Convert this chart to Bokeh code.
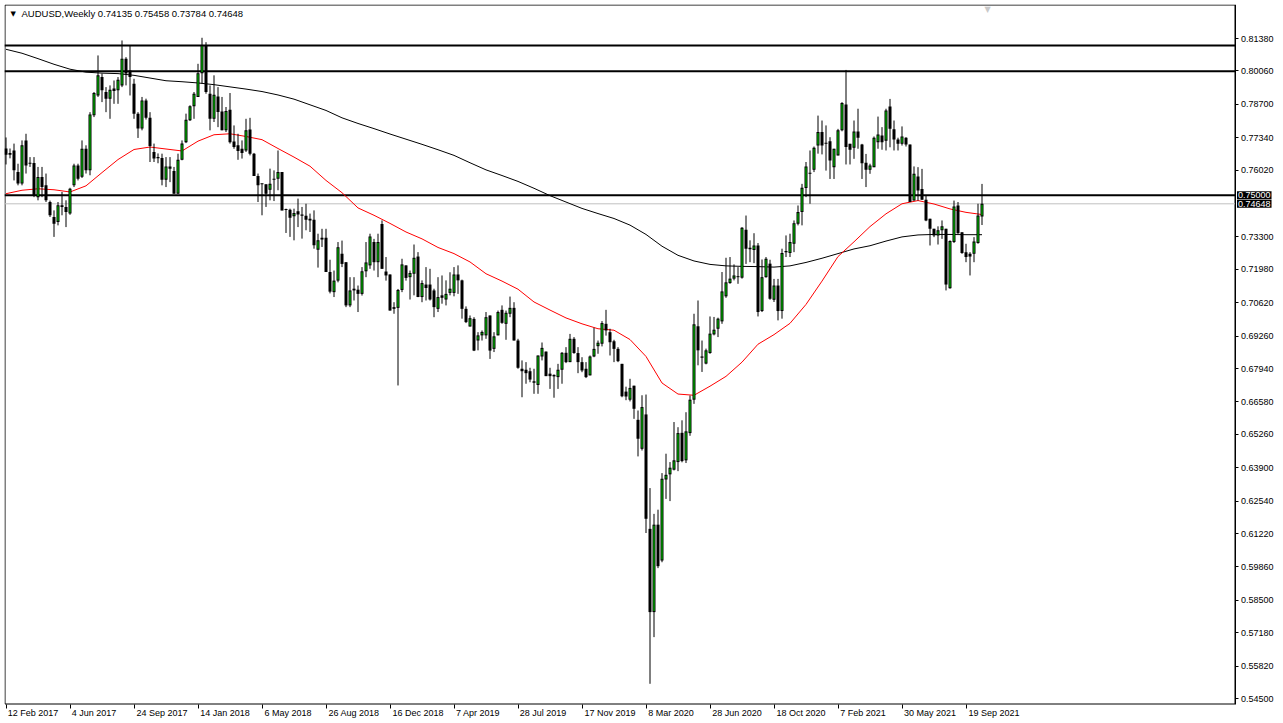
from bokeh.plotting import figure
from bokeh.models import (Range1d, Label, FixedTicker, NumeralTickFormatter, ColumnDataSource,
                          LinearAxis)
from bokeh.embed import file_html
from bokeh.resources import INLINE

# ---------------- data (weekly AUDUSD) ----------------
opens = [
    0.7690, 0.7665, 0.7682, 0.7594, 0.7547, 0.7723, 0.7628, 0.7631, 0.7492, 0.7574,
    0.7540, 0.7472, 0.7411, 0.7391, 0.7459, 0.7452, 0.7425, 0.7540, 0.7621, 0.7575,
    0.7689, 0.7601, 0.7825, 0.7906, 0.7981, 0.7920, 0.7893, 0.7924, 0.7927, 0.7947,
    0.8056, 0.8008, 0.7954, 0.7832, 0.7771, 0.7886, 0.7815, 0.7676, 0.7650, 0.7651,
    0.7563, 0.7617, 0.7598, 0.7506, 0.7644, 0.7716, 0.7805, 0.7862, 0.7900, 0.7997,
    0.8110, 0.7913, 0.7811, 0.7902, 0.7841, 0.7764, 0.7848, 0.7719, 0.7703, 0.7689,
    0.7682, 0.7767, 0.7669, 0.7578, 0.7544, 0.7544, 0.7522, 0.7563, 0.7567, 0.7594,
    0.7443, 0.7441, 0.7414, 0.7434, 0.7421, 0.7416, 0.7404, 0.7400, 0.7278, 0.7319,
    0.7327, 0.7187, 0.7105, 0.7152, 0.7261, 0.7227, 0.7051, 0.7112, 0.7115, 0.7098,
    0.7190, 0.7214, 0.7309, 0.7227, 0.7383, 0.7189, 0.7177, 0.7044, 0.7041, 0.7114,
    0.7214, 0.7166, 0.7180, 0.7250, 0.7085, 0.7136, 0.7136, 0.7112, 0.7037, 0.7092,
    0.7075, 0.7102, 0.7102, 0.7177, 0.7153, 0.7037, 0.6965, 0.6996, 0.6908, 0.6929,
    0.6929, 0.7010, 0.6874, 0.6929, 0.7033, 0.6976, 0.7017, 0.7041, 0.6908, 0.6793,
    0.6789, 0.6783, 0.6742, 0.6727, 0.6843, 0.6863, 0.6773, 0.6768, 0.6759, 0.6789,
    0.6858, 0.6820, 0.6915, 0.6857, 0.6820, 0.6793, 0.6766, 0.6843, 0.6885, 0.6895,
    0.6976, 0.6942, 0.6905, 0.6874, 0.6813, 0.6700, 0.6667, 0.6724, 0.6585, 0.6467,
    0.6607, 0.6141, 0.5802, 0.6158, 0.6012, 0.6342, 0.6363, 0.6382, 0.6413, 0.6532,
    0.6420, 0.6531, 0.6667, 0.6966, 0.6843, 0.6814, 0.6857, 0.6933, 0.6956, 0.6986,
    0.7088, 0.7142, 0.7160, 0.7166, 0.7164, 0.7359, 0.7286, 0.7277, 0.7295, 0.7028,
    0.7166, 0.7221, 0.7074, 0.7132, 0.7028, 0.7273, 0.7264, 0.7302, 0.7384, 0.7431,
    0.7529, 0.7591, 0.7603, 0.7702, 0.7757, 0.7712, 0.7720, 0.7614, 0.7662, 0.7764,
    0.7869, 0.7709, 0.7693, 0.7759, 0.7706, 0.7632, 0.7603, 0.7614, 0.7716, 0.7743,
    0.7722, 0.7861, 0.7768, 0.7727, 0.7709, 0.7734, 0.7706, 0.7478, 0.7576, 0.7525,
    0.7481, 0.7404, 0.7363, 0.7336, 0.7357, 0.7363, 0.7121, 0.7309, 0.7458, 0.7349,
    0.7268, 0.7261, 0.7261, 0.7305, 0.74135,
]
highs = [
    0.7735, 0.7690, 0.7710, 0.7628, 0.7723, 0.7750, 0.7655, 0.7655, 0.7615, 0.7615,
    0.7588, 0.7478, 0.7438, 0.7472, 0.7513, 0.7479, 0.7530, 0.7628, 0.7628, 0.7723,
    0.7703, 0.7838, 0.7920, 0.8069, 0.7995, 0.7940, 0.7947, 0.7967, 0.7981, 0.8130,
    0.8062, 0.8110, 0.7974, 0.7838, 0.7900, 0.7893, 0.7838, 0.7710, 0.7670, 0.7669,
    0.7655, 0.7655, 0.7615, 0.7669, 0.7723, 0.7832, 0.7866, 0.7920, 0.8035, 0.8141,
    0.8123, 0.7947, 0.7988, 0.7940, 0.7900, 0.7859, 0.7916, 0.7784, 0.7750, 0.7723,
    0.7811, 0.7815, 0.7672, 0.7588, 0.7547, 0.7544, 0.7608, 0.7601, 0.7682, 0.7594,
    0.7445, 0.7445, 0.7445, 0.7486, 0.7452, 0.7465, 0.7425, 0.7438, 0.7343, 0.7363,
    0.7363, 0.7237, 0.7193, 0.7309, 0.7315, 0.7227, 0.7166, 0.7166, 0.7132, 0.7207,
    0.7309, 0.7343, 0.7322, 0.7343, 0.7397, 0.7248, 0.7177, 0.7064, 0.7118, 0.7241,
    0.7214, 0.7193, 0.7299, 0.7268, 0.7153, 0.7207, 0.7200, 0.7119, 0.7166, 0.7173,
    0.7153, 0.7186, 0.7207, 0.7214, 0.7156, 0.7047, 0.7010, 0.7003, 0.6942, 0.6949,
    0.7024, 0.7010, 0.6942, 0.7030, 0.7051, 0.7030, 0.7087, 0.7064, 0.6915, 0.6827,
    0.6820, 0.6797, 0.6793, 0.6847, 0.6900, 0.6863, 0.6797, 0.6770, 0.6813, 0.6861,
    0.6881, 0.6935, 0.6922, 0.6881, 0.6840, 0.6820, 0.6847, 0.6960, 0.6908, 0.6987,
    0.7033, 0.6956, 0.6911, 0.6881, 0.6813, 0.6720, 0.6752, 0.6724, 0.6623, 0.6685,
    0.6688, 0.6307, 0.6202, 0.6219, 0.6368, 0.6447, 0.6413, 0.6576, 0.6555, 0.6583,
    0.6616, 0.6684, 0.7017, 0.7071, 0.6908, 0.6875, 0.7006, 0.7004, 0.7001, 0.7187,
    0.7245, 0.7248, 0.7218, 0.7207, 0.7370, 0.7417, 0.7316, 0.7345, 0.7305, 0.7238,
    0.7248, 0.7237, 0.7159, 0.7159, 0.7282, 0.7336, 0.7343, 0.7397, 0.7458, 0.7546,
    0.7635, 0.7682, 0.7698, 0.7824, 0.7804, 0.7784, 0.7736, 0.7689, 0.7770, 0.7879,
    0.8010, 0.7709, 0.7804, 0.7852, 0.7709, 0.7668, 0.7628, 0.7739, 0.7820, 0.7777,
    0.7852, 0.7892, 0.7804, 0.7734, 0.7780, 0.7736, 0.7706, 0.7617, 0.7614, 0.7607,
    0.7499, 0.7404, 0.7363, 0.7373, 0.7397, 0.7363, 0.7316, 0.7478, 0.7472, 0.7349,
    0.7302, 0.7268, 0.7329, 0.7465, 0.75458,
]
lows = [
    0.7625, 0.7650, 0.7560, 0.7540, 0.7540, 0.7588, 0.7615, 0.7492, 0.7479, 0.7492,
    0.7472, 0.7411, 0.7330, 0.7377, 0.7418, 0.7370, 0.7420, 0.7533, 0.7560, 0.7570,
    0.7588, 0.7581, 0.7818, 0.7900, 0.7879, 0.7838, 0.7811, 0.7872, 0.7872, 0.7940,
    0.7947, 0.7906, 0.7811, 0.7733, 0.7764, 0.7808, 0.7635, 0.7635, 0.7630, 0.7540,
    0.7533, 0.7553, 0.7506, 0.7506, 0.7642, 0.7712, 0.7802, 0.7811, 0.7900, 0.7954,
    0.7913, 0.7764, 0.7798, 0.7777, 0.7764, 0.7757, 0.7710, 0.7689, 0.7644, 0.7649,
    0.7676, 0.7662, 0.7578, 0.7472, 0.7418, 0.7452, 0.7479, 0.7476, 0.7520, 0.7438,
    0.7346, 0.7330, 0.7316, 0.7370, 0.7323, 0.7357, 0.7350, 0.7282, 0.7205, 0.7289,
    0.7187, 0.7100, 0.7085, 0.7145, 0.7207, 0.7044, 0.7044, 0.7071, 0.7024, 0.7091,
    0.7166, 0.7200, 0.7193, 0.7166, 0.7200, 0.7152, 0.7030, 0.7017, 0.6725, 0.7105,
    0.7152, 0.7075, 0.7092, 0.7085, 0.7064, 0.7071, 0.7071, 0.7003, 0.7024, 0.7058,
    0.7051, 0.7092, 0.7088, 0.7098, 0.6997, 0.6979, 0.6965, 0.6865, 0.6868, 0.6908,
    0.6915, 0.6833, 0.6861, 0.6929, 0.6976, 0.6911, 0.7003, 0.6908, 0.6793, 0.6677,
    0.6732, 0.6738, 0.6691, 0.6691, 0.6827, 0.6763, 0.6711, 0.6675, 0.6711, 0.6732,
    0.6816, 0.6820, 0.6854, 0.6775, 0.6779, 0.6755, 0.6766, 0.6840, 0.6854, 0.6884,
    0.6928, 0.6847, 0.6820, 0.6820, 0.6677, 0.6665, 0.6660, 0.6589, 0.6436, 0.6460,
    0.6124, 0.5510, 0.5700, 0.5981, 0.6005, 0.6263, 0.6254, 0.6379, 0.6376, 0.6412,
    0.6409, 0.6520, 0.6650, 0.6807, 0.6780, 0.6811, 0.6854, 0.6929, 0.6922, 0.6976,
    0.7082, 0.7139, 0.7153, 0.7139, 0.7160, 0.7220, 0.7227, 0.7223, 0.7006, 0.7024,
    0.7164, 0.7074, 0.7065, 0.6990, 0.6997, 0.7248, 0.7248, 0.7268, 0.7377, 0.7377,
    0.7492, 0.7465, 0.7594, 0.7669, 0.7666, 0.7600, 0.7566, 0.7566, 0.7662, 0.7760,
    0.7625, 0.7625, 0.7648, 0.7689, 0.7566, 0.7533, 0.7587, 0.7614, 0.7689, 0.7685,
    0.7682, 0.7695, 0.7682, 0.7682, 0.7702, 0.7698, 0.7472, 0.7478, 0.7478, 0.7481,
    0.7394, 0.7295, 0.7329, 0.7299, 0.7322, 0.7112, 0.7119, 0.7305, 0.7343, 0.7261,
    0.7227, 0.7173, 0.7227, 0.7302, 0.73784,
]
closes = [
    0.7665, 0.7672, 0.7601, 0.7547, 0.7703, 0.7621, 0.7631, 0.7499, 0.7574, 0.7533,
    0.7479, 0.7418, 0.7384, 0.7459, 0.7452, 0.7431, 0.7526, 0.7621, 0.7567, 0.7689,
    0.7601, 0.7829, 0.7916, 0.7988, 0.7927, 0.7893, 0.7929, 0.7934, 0.7970, 0.8056,
    0.7995, 0.7981, 0.7832, 0.7771, 0.7886, 0.7815, 0.7700, 0.7649, 0.7655, 0.7563,
    0.7617, 0.7608, 0.7506, 0.7644, 0.7710, 0.7807, 0.7862, 0.7913, 0.7997, 0.8110,
    0.7920, 0.7811, 0.7909, 0.7839, 0.7764, 0.7843, 0.7716, 0.7696, 0.7680, 0.7672,
    0.7764, 0.7669, 0.7578, 0.7540, 0.7544, 0.7506, 0.7546, 0.7567, 0.7594, 0.7438,
    0.7440, 0.7408, 0.7427, 0.7421, 0.7416, 0.7400, 0.7397, 0.7296, 0.7316, 0.7327,
    0.7187, 0.7107, 0.7152, 0.7288, 0.7220, 0.7051, 0.7112, 0.7119, 0.7098, 0.7190,
    0.7226, 0.7332, 0.7227, 0.7309, 0.7200, 0.7173, 0.7030, 0.7037, 0.7114, 0.7218,
    0.7163, 0.7183, 0.7245, 0.7085, 0.7142, 0.7122, 0.7075, 0.7044, 0.7085, 0.7082,
    0.7098, 0.7119, 0.7177, 0.7153, 0.7037, 0.6983, 0.6999, 0.6867, 0.6929, 0.6943,
    0.7003, 0.6867, 0.6925, 0.7024, 0.6980, 0.7021, 0.7041, 0.6908, 0.6797, 0.6783,
    0.6775, 0.6749, 0.6736, 0.6847, 0.6878, 0.6763, 0.6763, 0.6762, 0.6789, 0.6858,
    0.6820, 0.6915, 0.6857, 0.6820, 0.6786, 0.6759, 0.6843, 0.6874, 0.6899, 0.6979,
    0.6949, 0.6901, 0.6874, 0.6824, 0.6681, 0.6680, 0.6715, 0.6630, 0.6508, 0.6637,
    0.6182, 0.5802, 0.6158, 0.5989, 0.6345, 0.6361, 0.6390, 0.6420, 0.6531, 0.6417,
    0.6538, 0.6667, 0.6974, 0.6868, 0.6838, 0.6868, 0.6936, 0.6952, 0.6997, 0.7108,
    0.7145, 0.7160, 0.7173, 0.7167, 0.7367, 0.7282, 0.7280, 0.7295, 0.7024, 0.7166,
    0.7241, 0.7078, 0.7132, 0.7028, 0.7264, 0.7268, 0.7309, 0.7386, 0.7431, 0.7530,
    0.7617, 0.7587, 0.7693, 0.7757, 0.7702, 0.7709, 0.7641, 0.7689, 0.7764, 0.7875,
    0.7696, 0.7685, 0.7759, 0.7734, 0.7630, 0.7603, 0.7621, 0.7734, 0.7747, 0.7716,
    0.7845, 0.7770, 0.7727, 0.7709, 0.7739, 0.7706, 0.7472, 0.7587, 0.7519, 0.7481,
    0.7397, 0.7363, 0.7336, 0.7357, 0.7373, 0.7136, 0.7313, 0.7454, 0.7345, 0.7264,
    0.7248, 0.7250, 0.7311, 0.7417, 0.74648,
]

# moving averages, read every 4 weeks
ma_weeks = list(range(0, 245, 4))
ma_red = [
    0.7506, 0.7520, 0.7526, 0.7522, 0.7513, 0.7538, 0.7592, 0.7645, 0.7686, 0.7696,
    0.7688, 0.7680, 0.7720, 0.7746, 0.7750, 0.7739, 0.7726, 0.7690, 0.7655, 0.7618,
    0.7560, 0.7510, 0.7448, 0.7418, 0.7385, 0.7350, 0.7322, 0.7287, 0.7262, 0.7228,
    0.7180, 0.7150, 0.7117, 0.7065, 0.7032, 0.7000, 0.6976, 0.6956, 0.6950, 0.6912,
    0.6843, 0.6735, 0.6690, 0.6685, 0.6722, 0.6762, 0.6820, 0.6893, 0.6932, 0.6978,
    0.7055, 0.7150, 0.7250, 0.7310, 0.7372, 0.7424, 0.7465, 0.7478, 0.7464, 0.7444,
    0.7430, 0.7421,
]
ma_black = [
    0.8094, 0.8078, 0.8056, 0.8033, 0.8013, 0.8001, 0.7997, 0.7995, 0.7988, 0.7977,
    0.7966, 0.7962, 0.7957, 0.7950, 0.7941, 0.7932, 0.7922, 0.7908, 0.7891, 0.7868,
    0.7845, 0.7815, 0.7792, 0.7771, 0.7749, 0.7728, 0.7707, 0.7685, 0.7662, 0.7632,
    0.7603, 0.7580, 0.7556, 0.7528, 0.7498, 0.7472, 0.7446, 0.7425, 0.7405, 0.7378,
    0.7340, 0.7292, 0.7255, 0.7232, 0.7218, 0.7212, 0.7210, 0.7209, 0.7207, 0.7212,
    0.7226, 0.7243, 0.7262, 0.7281, 0.7294, 0.7313, 0.7330, 0.7338, 0.7340, 0.7340,
    0.7339, 0.7339,
]

level_lines = [0.8110, 0.8005, 0.7500]
current_price = 0.74648
box_levels = [0.75000, 0.74648]
box_texts = ["0.75000", "0.74648"]

y_ticks = [0.81380, 0.80060, 0.78700, 0.77340, 0.76020, 0.73300, 0.71980, 0.70620,
           0.69260, 0.67940, 0.66580, 0.65260, 0.63900, 0.62540, 0.61220, 0.59860,
           0.58500, 0.57180, 0.55820, 0.54500]
x_tick_weeks = list(range(0, 241, 16))
x_tick_labels = ["12 Feb 2017", "4 Jun 2017", "24 Sep 2017", "14 Jan 2018", "6 May 2018",
                 "26 Aug 2018", "16 Dec 2018", "7 Apr 2019", "28 Jul 2019", "17 Nov 2019",
                 "8 Mar 2020", "28 Jun 2020", "18 Oct 2020", "7 Feb 2021", "30 May 2021",
                 "19 Sep 2021"]
title_text = "AUDUSD,Weekly  0.74135 0.75458 0.73784 0.74648"

# ---------------- layout ----------------
W, H = 1283, 723
LEFT, TOP = 4, 4
FRAME_W = W - LEFT
FRAME_H = H - TOP
PX_BAR = 4.0
PX_UNIT = 2455.4
CHART_W = 1230.5          # price scale line position from the left edge of the frame
CHART_H = 699.5           # time scale line position from the top edge of the frame
X0 = -0.375
X1 = X0 + FRAME_W / PX_BAR
XA = X0 + CHART_W / PX_BAR
Y1 = 0.82765
Y0 = Y1 - FRAME_H / PX_UNIT
YB = Y1 - CHART_H / PX_UNIT
ONE_PX = 1.0 / PX_UNIT
FONT = "Liberation Sans"
FONT_PX = 9
BULL_GREEN = "#00e600"

p = figure(width=W, height=H, x_range=Range1d(X0, X1), y_range=Range1d(Y0, Y1),
           output_backend="svg", toolbar_location=None, y_axis_location="right",
           min_border_left=LEFT, min_border_top=TOP, min_border_right=0,
           min_border_bottom=0)
p.outline_line_color = None
p.background_fill_color = "white"
p.border_fill_color = "white"
p.xgrid.visible = False
p.ygrid.visible = False

# chart border (left, top, bottom; the right side is the price scale line)
p.quad(left=[X0 + 0.5 / PX_BAR], right=[XA], top=[Y1 - 0.5 * ONE_PX], bottom=[YB],
       fill_color=None, line_color="black", line_width=1)

# level lines
p.segment(x0=[X0] * len(level_lines), x1=[XA] * len(level_lines), y0=level_lines, y1=level_lines,
          line_color="black", line_width=2)
p.segment(x0=[X0], x1=[XA], y0=[current_price], y1=[current_price],
          line_color="#c0c0c0", line_width=1)

# candles
n = len(closes)
idx = list(range(n))
up = [c >= o for o, c in zip(opens, closes)]
tops = [max(o, c) for o, c in zip(opens, closes)]
bots = [min(o, c) for o, c in zip(opens, closes)]
tops = [t if t - b > ONE_PX else b + ONE_PX for t, b in zip(tops, bots)]
src = ColumnDataSource(dict(x=idx, hi=highs, lo=lows, top=tops, bot=bots))
bull = [i for i in idx if up[i] and tops[i] - bots[i] > 2.5 * ONE_PX]
src_in = ColumnDataSource(dict(x=bull, top=[tops[i] - ONE_PX for i in bull],
                               bot=[bots[i] + ONE_PX for i in bull]))

p.line(ma_weeks, ma_black, line_color="black", line_width=1)
p.line(ma_weeks, ma_red, line_color="#ff0000", line_width=1)

# wick, body (3 px wide) and the 1 px green core of rising candles
p.segment(x0="x", y0="lo", x1="x", y1="hi", source=src, line_color="black", line_width=1)
p.segment(x0="x", y0="bot", x1="x", y1="top", source=src, line_color="black", line_width=3,
          line_cap="butt")
p.segment(x0="x", y0="bot", x1="x", y1="top", source=src_in, line_color=BULL_GREEN, line_width=1,
          line_cap="butt")

# price scale
p.yaxis.fixed_location = XA
p.yaxis.bounds = (YB, Y1)
p.yaxis.ticker = FixedTicker(ticks=y_ticks)
p.yaxis.formatter = NumeralTickFormatter(format="0.00000")
p.yaxis.axis_line_color = "black"
p.yaxis.major_tick_out = 3
p.yaxis.major_tick_in = 0
p.yaxis.minor_tick_line_color = None
p.yaxis.major_label_standoff = 3
p.yaxis.major_label_text_font = FONT
p.yaxis.major_label_text_font_size = f"{FONT_PX}px"
p.yaxis.major_label_text_color = "black"

# time scale: tick marks
p.xaxis.fixed_location = YB
p.xaxis.bounds = (X0, XA)
p.xaxis.ticker = FixedTicker(ticks=x_tick_weeks)
p.xaxis.axis_line_color = None
p.xaxis.major_tick_out = 4
p.xaxis.major_tick_in = 0
p.xaxis.minor_tick_line_color = None
p.xaxis.major_label_text_color = None
p.xaxis.major_label_text_font_size = f"{FONT_PX}px"

# time scale: labels that start just right of their tick mark
ADV = {" ": 278, "A": 667, "D": 722, "F": 611, "J": 500, "M": 833, "N": 722, "O": 778,
       "S": 667, "a": 556, "b": 556, "c": 500, "e": 556, "g": 556, "l": 222, "n": 556,
       "o": 556, "p": 556, "r": 333, "t": 278, "u": 556, "v": 500, "y": 500}
def text_px(s):
    return sum(ADV.get(ch, 556) for ch in s) / 1000.0 * FONT_PX
label_pos = [w + round(((text_px(s) / 2 + 2) / PX_BAR) * 4) / 4
             for w, s in zip(x_tick_weeks, x_tick_labels)]
lab_axis = LinearAxis(ticker=FixedTicker(ticks=label_pos), fixed_location=YB,
                      bounds=(X0, X1),
                      major_label_overrides={pos: s for pos, s in zip(label_pos, x_tick_labels)},
                      axis_line_color=None, major_tick_line_color=None, minor_tick_line_color=None,
                      major_tick_out=3, major_tick_in=0, major_label_standoff=1,
                      major_label_text_font=FONT, major_label_text_font_size=f"{FONT_PX}px",
                      major_label_text_color="black")
p.add_layout(lab_axis, "below")

# price boxes on the right scale
for lv, tx in zip(box_levels, box_texts):
    p.add_layout(Label(x=XA, y=lv, text=tx, x_offset=2, text_baseline="middle",
                       text_font=FONT, text_font_size=f"{FONT_PX}px", text_color="white",
                       background_fill_color="black", padding=1))

# header
p.add_layout(Label(x=X0 + 6 / PX_BAR, y=Y1 - 9 * ONE_PX, text="\u25bc", text_baseline="middle",
                   text_font="DejaVu Sans", text_font_size="7px", text_color="black"))
p.add_layout(Label(x=X0 + 17 / PX_BAR, y=Y1 - 9 * ONE_PX, text=title_text, text_baseline="middle",
                   text_font=FONT, text_font_size="9.5px", text_color="black"))
# chart-shift marker
p.add_layout(Label(x=245.4, y=Y1, text="\u25bc", text_align="center", text_baseline="top",
                   text_font="DejaVu Sans", text_font_size="8px", text_color="#c8c8c8"))

open("out.html", "w").write(file_html(p, INLINE))
